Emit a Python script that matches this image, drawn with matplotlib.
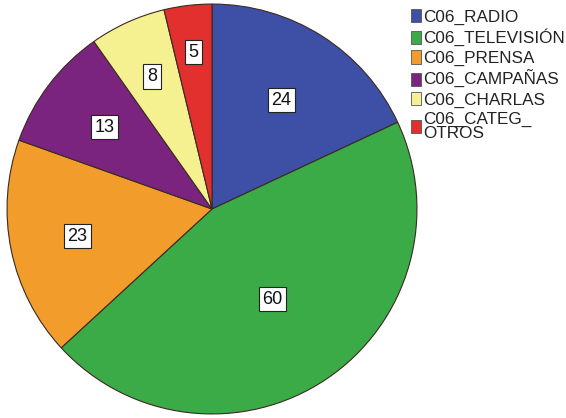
import matplotlib
matplotlib.use('Agg')
import matplotlib.pyplot as plt
import numpy as np

# Data
categories = ['C06_RADIO', 'C06_TELEVISIÓN', 'C06_PRENSA', 'C06_CAMPAÑAS',
              'C06_CHARLAS', 'C06_CATEG_\nOTROS']
counts = [24, 60, 23, 13, 8, 5]
colors = ['#3d50a5', '#3bab48', '#f29c2c', '#7a247f', '#f6f190', '#e2302f']

# radial position of each count box (fraction of radius)
label_r = [0.63, 0.53, 0.67, 0.66, 0.71, 0.77]

plt.rcParams['font.family'] = ['Liberation Sans', 'DejaVu Sans']

fig = plt.figure(figsize=(5.66, 4.18), dpi=100)
ax = fig.add_axes([5 / 566, 2 / 418, 414 / 566, 414 / 418])

wedges, _ = ax.pie(counts, colors=colors, startangle=90, counterclock=False,
                   radius=1, wedgeprops=dict(edgecolor='#3a2a20', linewidth=0.8))
ax.set_xlim(-1.01, 1.01)
ax.set_ylim(-1.01, 1.01)
ax.set_aspect('equal')
ax.axis('off')

# count labels in white boxes
for w, n, r in zip(wedges, counts, label_r):
    mid = np.deg2rad((w.theta1 + w.theta2) / 2)
    ax.text(r * np.cos(mid), r * np.sin(mid), str(n), ha='center', va='center',
            fontsize=13, color='#111111',
            bbox=dict(boxstyle='square,pad=0.2', fc='white', ec='#222222', lw=0.8))

leg = fig.legend(wedges, categories, loc='upper left',
                 bbox_to_anchor=(411 / 566, 1 - 9 / 418), frameon=False,
                 fontsize=12.3, borderpad=0, borderaxespad=0,
                 handlelength=0.6, handleheight=0.8, handletextpad=0.1,
                 labelspacing=0.24)
for t in leg.get_texts():
    t.set_linespacing(0.9)
    t.set_color('#222222')
for h in leg.legend_handles:
    h.set_edgecolor('#555555')
    h.set_linewidth(0.6)

fig.savefig('out.png', dpi=100)
